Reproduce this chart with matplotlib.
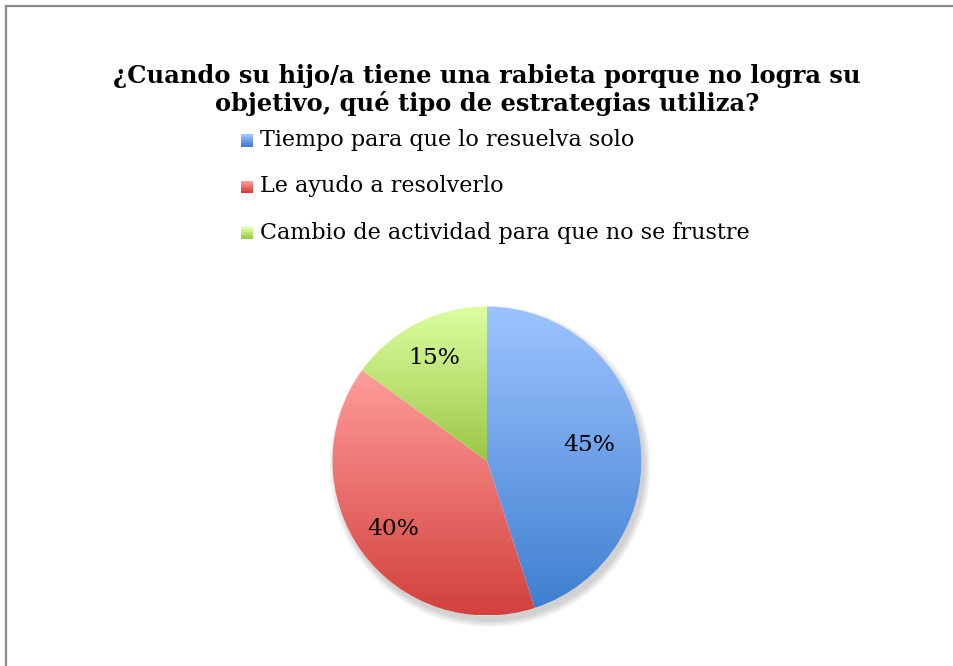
import numpy as np
import matplotlib
matplotlib.use("Agg")
import matplotlib.pyplot as plt
from matplotlib.colors import LinearSegmentedColormap
from matplotlib.legend_handler import HandlerBase
from matplotlib.patches import Rectangle, Circle

title = "¿Cuando su hijo/a tiene una rabieta porque no logra su\nobjetivo, qué tipo de estrategias utiliza?"
labels = ["Tiempo para que lo resuelva solo",
          "Le ayudo a resolverlo",
          "Cambio de actividad para que no se frustre"]
values = [45, 40, 15]
# (top colour, bottom colour) of each slice
grads = [("#9dc4ff", "#3f7fd0"),
         ("#ff9d9b", "#d2403c"),
         ("#dcffa0", "#9cc648")]
# how far out each percentage sits (fraction of the radius)
pct_dist = [0.67, 0.75, 0.75]

plt.rcParams['font.family'] = ['DejaVu Serif']

W, H = 954, 666
fig = plt.figure(figsize=(W / 100, H / 100), dpi=100)

# border (only top and left are visible in the original)
fig.add_artist(plt.Line2D([6 / W, 1], [1 - 5.5 / H] * 2, color="#8c8c8c", lw=1.6))
fig.add_artist(plt.Line2D([6.5 / W] * 2, [0, 1 - 5.5 / H], color="#8c8c8c", lw=1.6))

fig.text(487 / W, 1 - 90 / H, title, ha="center", va="center",
         fontsize=17.4, fontweight="bold", linespacing=1.2)

# pie axes
cx, cy, r = 487, 461, 154.5
lim = 1.25
size = r * lim
ax = fig.add_axes([(cx - size) / W, (H - cy - size) / H, 2 * size / W, 2 * size / H])
wedges, texts = ax.pie(values, startangle=90, counterclock=False)
ax.set_aspect("equal")

# soft shadow
for k in range(6):
    ax.add_patch(Circle((0.02, -0.035), 1.0 + 0.008 * k, color="black",
                        alpha=0.03, lw=0, zorder=0))
ax.add_patch(Circle((0, 0), 1.0, color="white", lw=0, zorder=0.5))

for w, (c1, c2), v, d in zip(wedges, grads, values, pct_dist):
    w.set_facecolor("none")
    w.set_edgecolor("none")
    bb = w.get_path().get_extents(w.get_patch_transform())
    cmap = LinearSegmentedColormap.from_list("g", [c1, c2])
    grad = np.linspace(0, 1, 256).reshape(-1, 1)
    im = ax.imshow(grad, cmap=cmap, aspect="auto", origin="upper",
                   extent=[bb.x0, bb.x1, bb.y0, bb.y1], zorder=1)
    im.set_clip_path(w)
    mid = np.deg2rad((w.theta1 + w.theta2) / 2)
    ax.text(d * np.cos(mid), d * np.sin(mid), f"{v}%", ha="center", va="center",
            fontsize=16.8, color="black", zorder=3)
ax.set_xlim(-lim, lim)
ax.set_ylim(-lim, lim)
ax.axis("off")


class GradHandler(HandlerBase):
    def __init__(self, c1, c2):
        super().__init__()
        self.cmap = LinearSegmentedColormap.from_list("g", [c1, c2])

    def create_artists(self, legend, orig, xd, yd, width, height, fontsize, trans):
        n = 8
        side = min(width, height)
        y0 = yd + (height - side) / 2
        arts = []
        for i in range(n):
            col = self.cmap(i / (n - 1))
            y = y0 + side - (i + 1) * side / n
            arts.append(Rectangle((xd, y), side, side / n, facecolor=col,
                                  edgecolor="none", transform=trans))
        return arts


proxies = [Rectangle((0, 0), 1, 1) for _ in labels]
fig.legend(proxies, labels, loc="upper left",
           bbox_to_anchor=(221 / W, 1 - 109 / H), frameon=False,
           fontsize=16, handlelength=0.56, handleheight=0.56,
           handletextpad=0.28, labelspacing=1.1,
           handler_map={p: GradHandler(*g) for p, g in zip(proxies, grads)})

fig.savefig("out.png", dpi=100)
